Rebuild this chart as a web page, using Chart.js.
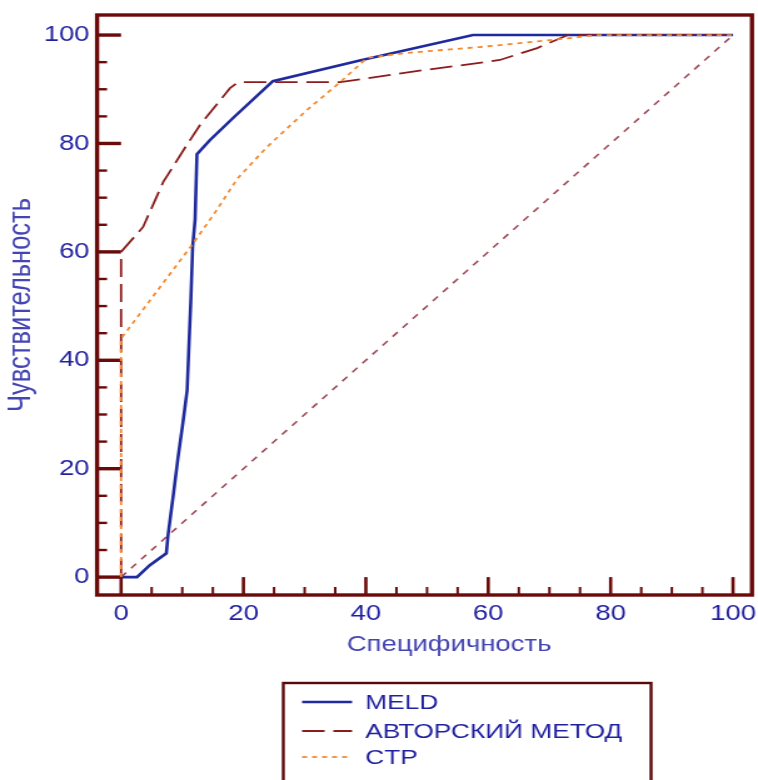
<!DOCTYPE html>
<html>
<head>
<meta charset="utf-8">
<script src="https://cdn.jsdelivr.net/npm/chart.js@4/dist/chart.umd.min.js"></script>
<style>
  html, body { margin: 0; padding: 0; background: #fff; overflow: hidden; }
  /* the reference picture is stretched sideways, so is the canvas */
  #wrap { width: 606px; height: 780px; transform: scaleX(1.2508); transform-origin: 0 0; }
</style>
</head>
<body>
<div id="wrap"><canvas id="roc"></canvas></div>
<script>
// ROC data (specificity axis x, sensitivity axis y)
var meldX = [0, 2.6, 4.7, 7.4, 7.7, 8.5, 9.3, 10.1, 10.8, 11.1, 11.4, 11.7, 12.1, 12.4, 14.5, 18.3, 24.8, 39, 57.5, 100];
var meldY = [0, 0, 2.2, 4.4, 8, 14.8, 22, 28.4, 34.5, 43, 51, 61, 66, 78, 80.6, 84.7, 91.5, 95.3, 100, 100];

var authorX = [0, 0, 3.6, 6.9, 10.5, 12.9, 17.8, 19.1, 35.8, 49.2, 55.4, 61.9, 68, 73, 100];
var authorY = [0, 60, 64.6, 72.9, 79.3, 83.4, 90.2, 91.3, 91.3, 93.5, 94.4, 95.4, 97.6, 100, 100];

var ctpX = [0, 0, 11.8, 15.5, 19, 23.8, 30.4, 35.8, 40.2, 46.7, 52.1, 58.7, 66.8, 72.9, 77.8, 100];
var ctpY = [0, 44, 61.6, 67.5, 73.5, 79.3, 86.2, 91.3, 95.8, 96.7, 97.2, 97.8, 98.7, 99.4, 100, 100];

var diagX = [0, 100];
var diagY = [0, 100];

var seriesNames = ["MELD", "АВТОРСКИЙ МЕТОД", "CTP"];
var xTickVals = [0, 20, 40, 60, 80, 100];
var yTickVals = [0, 20, 40, 60, 80, 100];
var xTitle = "Специфичность";
var yTitle = "Чувствительность";

var FONT = "'Liberation Sans', Arial, sans-serif";
var FRAME = "#6a0a0a";
var TEXT_BLUE = "#1f1fa0";

function puntos(xs, ys) {
    return xs.map(function (v, i) { return { x: v, y: ys[i] }; });
}

function sinPadding(s) {
    s.paddingLeft = 0; s.paddingRight = 0; s.paddingTop = 0; s.paddingBottom = 0;
}

// frame, inward ticks, x title and boxed legend
var marcoPlugin = {
    id: 'marco',
    beforeDatasetsDraw: function (chart) {
        var ctx = chart.ctx, a = chart.chartArea;
        var sx = chart.scales.x, sy = chart.scales.y;
        var x0 = sx.getPixelForValue(0), y0 = sy.getPixelForValue(0);
        ctx.save();
        ctx.strokeStyle = FRAME;
        for (var v = 0; v <= 100; v += 5) {
            var major = (v % 20 === 0);
            // bottom
            var px = sx.getPixelForValue(v);
            ctx.lineWidth = major ? 2.6 : 2;
            ctx.beginPath();
            ctx.moveTo(px, a.bottom);
            ctx.lineTo(px, major ? y0 : a.bottom - 8);
            ctx.stroke();
            // left
            var py = sy.getPixelForValue(v);
            ctx.lineWidth = major ? 3.4 : 2.4;
            ctx.beginPath();
            ctx.moveTo(a.left, py);
            ctx.lineTo(major ? x0 : a.left + 8, py);
            ctx.stroke();
        }
        ctx.lineWidth = 3.4;
        ctx.strokeRect(a.left, a.top, a.right - a.left, a.bottom - a.top);
        ctx.restore();
    },
    afterDraw: function (chart) {
        var ctx = chart.ctx;
        ctx.save();
        // x axis title
        ctx.fillStyle = "#4444b2";
        ctx.font = "22px " + FONT;
        ctx.textAlign = "center";
        ctx.textBaseline = "middle";
        ctx.fillText(xTitle, 359, 645);

        // legend box
        ctx.strokeStyle = "#5a0808";
        ctx.lineWidth = 2.4;
        ctx.strokeRect(226.5, 683, 294, 130);
        var filas = [702, 731, 757];
        var ds = chart.data.datasets;
        ctx.font = "21px " + FONT;
        ctx.textAlign = "left";
        for (var i = 0; i < seriesNames.length; i++) {
            var d = ds[i];
            ctx.strokeStyle = d.borderColor;
            ctx.lineWidth = d.borderWidth;
            ctx.setLineDash(d.borderDash || []);
            ctx.beginPath();
            ctx.moveTo(241.5, filas[i]);
            ctx.lineTo(281.5, filas[i]);
            ctx.stroke();
            ctx.setLineDash([]);
            ctx.fillStyle = TEXT_BLUE;
            ctx.fillText(d.label, 292, filas[i] + 1);
        }
        ctx.restore();
    }
};

new Chart(document.getElementById("roc"), {
    type: 'line',
    data: {
        datasets: [{
            label: seriesNames[0],
            data: puntos(meldX, meldY),
            borderColor: "#1f2a9c",
            borderWidth: 2.6,
            order: 2
        }, {
            label: seriesNames[1],
            data: puntos(authorX, authorY),
            borderColor: "#8a1c1c",
            borderWidth: 1.8,
            borderDash: [18, 7],
            order: 1
        }, {
            label: seriesNames[2],
            data: puntos(ctpX, ctpY),
            borderColor: "#f28a30",
            borderWidth: 1.8,
            borderDash: [4, 4],
            order: 0
        }, {
            label: "diag",
            data: puntos(diagX, diagY),
            borderColor: "#a04a58",
            borderWidth: 1.6,
            borderDash: [6, 6],
            order: 3
        }]
    },
    options: {
        responsive: true,
        maintainAspectRatio: false,
        animation: false,
        devicePixelRatio: 1,
        layout: { padding: { top: 15, right: 4.8, left: 0, bottom: 0 } },
        elements: {
            point: { radius: 0 },
            line: { tension: 0, fill: false }
        },
        plugins: {
            legend: { display: false },
            tooltip: { enabled: false }
        },
        scales: {
            x: {
                type: 'linear',
                min: -3.92,
                max: 103.1,
                grid: { display: false, drawTicks: false },
                border: { display: false },
                afterFit: function (s) { s.height = 185; sinPadding(s); },
                afterBuildTicks: function (s) {
                    s.ticks = xTickVals.map(function (v) { return { value: v }; });
                },
                ticks: {
                    padding: 6,
                    color: TEXT_BLUE,
                    font: { family: FONT, size: 22 },
                    maxRotation: 0
                }
            },
            y: {
                type: 'linear',
                min: -3.3,
                max: 103.7,
                grid: { display: false, drawTicks: false },
                border: { display: false },
                afterFit: function (s) { s.width = 77.6; sinPadding(s); },
                afterBuildTicks: function (s) {
                    s.ticks = yTickVals.map(function (v) { return { value: v }; });
                },
                ticks: {
                    padding: 6,
                    color: TEXT_BLUE,
                    font: { family: FONT, size: 22 }
                },
                title: {
                    display: true,
                    text: yTitle,
                    color: "#4444b2",
                    font: { family: FONT, size: 25.5 },
                    padding: { top: 2, bottom: 0 }
                }
            }
        }
    },
    plugins: [marcoPlugin]
});
</script>
</body>
</html>
